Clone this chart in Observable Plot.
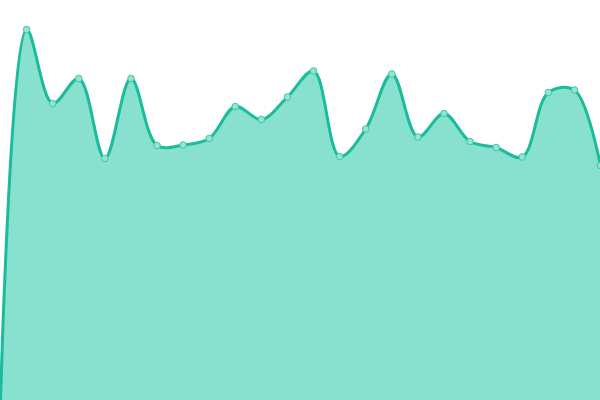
<!DOCTYPE html>
<html>
<head>
<meta charset="utf-8">
<script src="https://cdn.jsdelivr.net/npm/d3@7"></script>
<script src="https://cdn.jsdelivr.net/npm/@observablehq/plot@0.6"></script>
<style>
  html, body { margin: 0; padding: 0; background: #fff; }
  #chart svg { display: block; }
</style>
</head>
<body>
<div id="chart"></div>
<script>
const indices = d3.range(24);
const values = [0, 371, 297, 322, 242, 322, 255, 255.5, 262, 294, 281, 303.5, 329.5, 244, 271.5, 326.5, 263.5, 287, 259, 253, 243.5, 308, 310.5, 235];

const data = indices.map((i) => ({x: i, y: values[i]}));

const chart = Plot.plot({
  width: 600,
  height: 400,
  margin: 0,
  x: {domain: [0, 23], axis: null},
  y: {domain: [0, 400], axis: null},
  marks: [
    Plot.areaY(data, {x: "x", y: "y", curve: "catmull-rom", fill: "#88e0cf"}),
    Plot.lineY(data, {x: "x", y: "y", curve: "catmull-rom", stroke: "#1abc9c", strokeWidth: 3}),
    Plot.dot(data.slice(1), {x: "x", y: "y", r: 3.3, fill: "#93e4d4", stroke: "#3cc7a7", strokeWidth: 1})
  ]
});
document.getElementById("chart").appendChild(chart);
</script>
</body>
</html>
